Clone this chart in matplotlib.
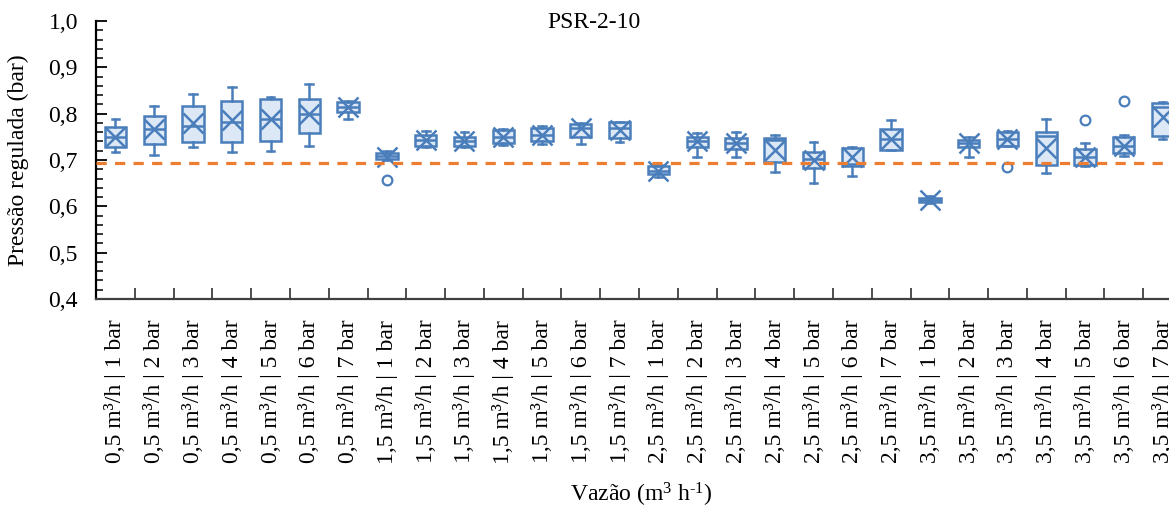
import matplotlib
matplotlib.use('Agg')
import matplotlib.pyplot as plt

plt.rcParams['font.family'] = ['Liberation Serif', 'DejaVu Serif']
plt.rcParams['mathtext.fontset'] = 'custom'
plt.rcParams['mathtext.rm'] = 'Liberation Serif'
plt.rcParams['mathtext.default'] = 'regular'

# categorias: vazão | pressão de entrada
vazoes = ['0,5', '1,5', '2,5', '3,5']
pressoes = ['1', '2', '3', '4', '5', '6', '7']
labels = [f'{v} m³/h | {p} bar' for v in vazoes for p in pressoes]

# estatísticas (bar)
whislo = [0.717, 0.711, 0.727, 0.717, 0.719, 0.730, 0.789,
          0.700, 0.727, 0.727, 0.732, 0.735, 0.735, 0.738,
          0.664, 0.707, 0.707, 0.675, 0.650, 0.666, 0.722,
          0.607, 0.706, 0.730, 0.673, 0.686, 0.709, 0.745]
q1 = [0.729, 0.735, 0.738, 0.739, 0.741, 0.758, 0.804,
      0.703, 0.730, 0.730, 0.736, 0.741, 0.750, 0.747,
      0.669, 0.727, 0.723, 0.696, 0.682, 0.686, 0.722,
      0.610, 0.727, 0.730, 0.689, 0.689, 0.716, 0.752]
med = [0.750, 0.766, 0.773, 0.783, 0.788, 0.799, 0.815,
       0.709, 0.743, 0.742, 0.750, 0.755, 0.768, 0.768,
       0.677, 0.740, 0.736, 0.743, 0.702, 0.691, 0.745,
       0.614, 0.736, 0.745, 0.752, 0.706, 0.730, 0.815]
q3 = [0.772, 0.794, 0.817, 0.828, 0.831, 0.831, 0.825,
      0.716, 0.755, 0.750, 0.765, 0.768, 0.777, 0.781,
      0.686, 0.750, 0.748, 0.748, 0.717, 0.725, 0.767,
      0.619, 0.743, 0.760, 0.761, 0.723, 0.750, 0.822]
whishi = [0.789, 0.817, 0.842, 0.858, 0.835, 0.864, 0.828,
          0.719, 0.763, 0.761, 0.766, 0.774, 0.779, 0.781,
          0.690, 0.758, 0.761, 0.753, 0.739, 0.727, 0.786,
          0.622, 0.750, 0.763, 0.789, 0.737, 0.754, 0.826]
media = [0.750, 0.766, 0.779, 0.786, 0.788, 0.799, 0.815,
         0.707, 0.743, 0.742, 0.750, 0.755, 0.768, 0.765,
         0.677, 0.740, 0.736, 0.722, 0.700, 0.706, 0.745,
         0.614, 0.736, 0.745, 0.725, 0.706, 0.730, 0.792]
outliers = [[], [], [], [], [], [], [],
            [0.657], [], [], [], [], [], [],
            [], [], [], [], [], [], [],
            [], [], [0.684], [], [0.786], [0.827], []]
pressao_ref = 0.694

azul = '#4a7ebb'
azul_claro = '#dce8f5'

stats = []
for i in range(len(labels)):
    stats.append({'whislo': whislo[i], 'q1': q1[i], 'med': med[i], 'q3': q3[i],
                  'whishi': whishi[i], 'mean': media[i], 'fliers': outliers[i]})

fig = plt.figure(figsize=(11.69, 5.08), dpi=100)
ax = fig.add_axes([96 / 1169, 209 / 508, 1086 / 1169, 278 / 508])

pos = list(range(len(labels)))
ax.bxp(stats, positions=pos, widths=0.55, capwidths=0.2, patch_artist=True,
       showmeans=True, showfliers=True,
       boxprops=dict(facecolor=azul_claro, edgecolor=azul, linewidth=1.8),
       whiskerprops=dict(color=azul, linewidth=1.8),
       capprops=dict(color=azul, linewidth=1.8),
       medianprops=dict(color=azul, linewidth=1.8),
       meanprops=dict(marker='x', markeredgecolor=azul, markersize=14,
                      markeredgewidth=1.8),
       flierprops=dict(marker='o', markerfacecolor='none', markeredgecolor=azul,
                       markersize=7, markeredgewidth=1.6))

ax.axhline(pressao_ref, color='#ed7d31', linewidth=2.3,
           linestyle=(0, (3.2, 2.6)), zorder=5)

ax.set_xlim(-0.5, len(labels) - 0.5)
ax.set_ylim(0.4, 1.0)

ax.set_xticks(pos)
ax.set_xticklabels(labels, rotation=90, fontsize=17)
ax.set_xticks([p + 0.5 for p in pos], minor=True)
ax.tick_params(axis='x', which='major', length=0, pad=15)
ax.tick_params(axis='x', which='minor', direction='in', length=8, width=1.3,
               color='#404040')

yt = [0.4, 0.5, 0.6, 0.7, 0.8, 0.9, 1.0]
ax.set_yticks(yt)
ax.set_yticklabels([f'{v:.1f}'.replace('.', ',') for v in yt], fontsize=17)
ax.set_yticks([0.4 + 0.02 * k for k in range(31)], minor=True)
ax.tick_params(axis='y', which='major', direction='in', length=8, width=1.3, pad=13)
ax.tick_params(axis='y', which='minor', direction='in', length=5, width=1.1)

for s in ['top', 'right']:
    ax.spines[s].set_visible(False)
ax.spines['left'].set_linewidth(1.6)
ax.spines['bottom'].set_linewidth(1.6)
ax.spines['bottom'].set_color('#404040')

fig.text(594 / 1169, 1 - 23 / 508, 'PSR-2-10', ha='center', va='center', fontsize=17)
fig.text(641 / 1169, 1 - 495 / 508, 'Vazão (m$^{3}$ h$^{\u2010 1}$)', ha='center',
         va='center', fontsize=17)
fig.text(18 / 1169, 1 - 160 / 508, 'Pressão regulada (bar)', ha='center',
         va='center', rotation=90, fontsize=17)

fig.savefig('out.png', dpi=100)
